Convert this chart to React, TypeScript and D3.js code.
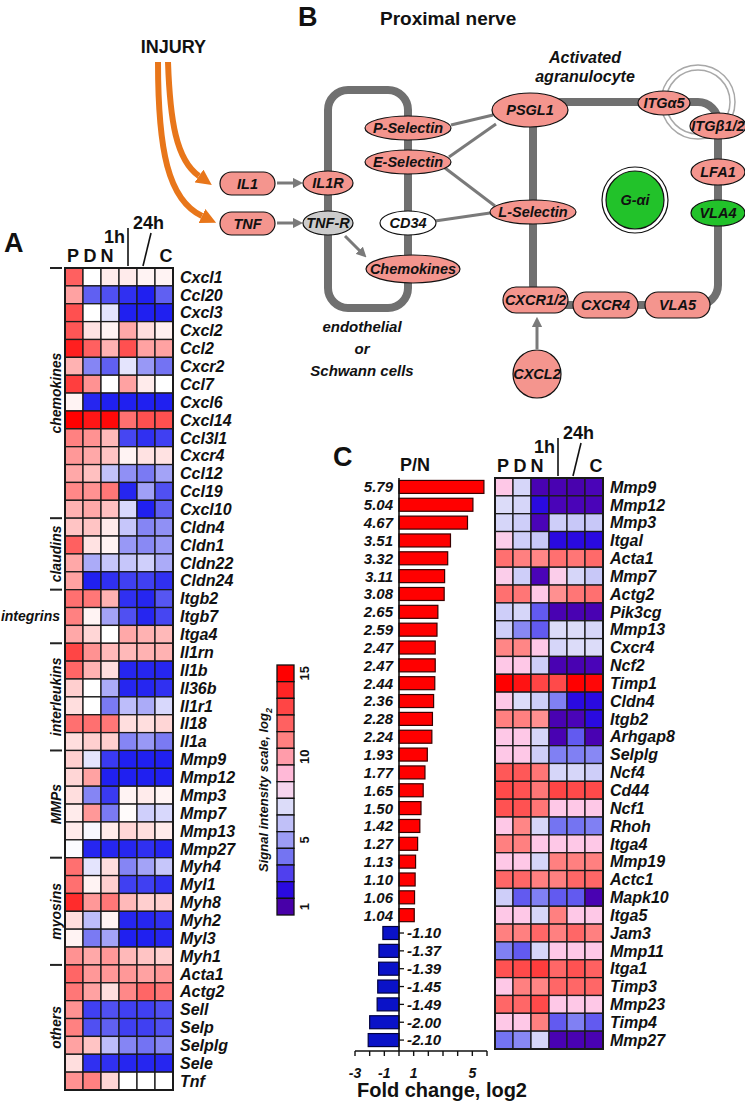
import React, { useEffect, useRef } from "react";
import * as d3 from "d3";

// columns of both heat maps
const conditions = ["P", "D", "N", "1h", "24h", "C"];

// panel A
const leftGenes = ["Cxcl1", "Ccl20", "Cxcl3", "Cxcl2", "Ccl2", "Cxcr2", "Ccl7", "Cxcl6", "Cxcl14", "Ccl3l1", "Cxcr4", "Ccl12", "Ccl19", "Cxcl10",
  "Cldn4", "Cldn1", "Cldn22", "Cldn24", "Itgb2", "Itgb7", "Itga4", "Il1rn", "Il1b", "Il36b", "Il1r1", "Il18", "Il1a",
  "Mmp9", "Mmp12", "Mmp3", "Mmp7", "Mmp13", "Mmp27", "Myh4", "Myl1", "Myh8", "Myh2", "Myl3", "Myh1",
  "Acta1", "Actg2", "Sell", "Selp", "Selplg", "Sele", "Tnf"];

const leftGroups = [
  { name: "chemokines", from: 0, to: 14 },
  { name: "claudins", from: 14, to: 18 },
  { name: "integrins", from: 18, to: 21 },
  { name: "interleukins", from: 21, to: 27 },
  { name: "MMPs", from: 27, to: 33 },
  { name: "myosins", from: 33, to: 39 },
  { name: "others", from: 39, to: 46 },
];

const leftSignal = [
  [12.5, 8, 8.5, 8.5, 8.3, 8.3],
  [10.5, 4, 3.5, 2.5, 2, 4],
  [13, 8, 7.3, 2, 2, 2],
  [12.8, 8.7, 8.3, 10.3, 8.8, 8.4],
  [14.3, 12.5, 10, 13, 10.5, 10.5],
  [10, 5, 4, 7.3, 5.5, 4.5],
  [13.5, 11, 8, 10.5, 8.5, 8],
  [8.3, 2.2, 2, 2, 2, 2],
  [15, 14.5, 14.8, 12, 13, 13],
  [11.5, 11, 9.8, 3.2, 2.5, 3],
  [10.8, 10.3, 9.5, 8.3, 8.7, 8.7],
  [10.3, 9.6, 6.5, 5.3, 4.7, 5.8],
  [11.3, 11, 11.8, 2.2, 5.7, 3.5],
  [10, 10.3, 9.6, 7, 2, 4],
  [9.5, 9.5, 8.5, 6.6, 5, 5.3],
  [12.5, 8.7, 8.3, 5.5, 5.1, 5.5],
  [10.3, 6, 6.6, 6.6, 6.8, 6],
  [10.5, 2, 2.5, 3, 3, 2.5],
  [12, 11.8, 10, 2.5, 2.2, 3.7],
  [11.5, 8.3, 5.8, 3.5, 2.2, 3.2],
  [10.3, 9, 8, 10.3, 10, 9.8],
  [13.3, 11, 9.8, 9.8, 10, 10],
  [12.3, 10, 8.8, 2.2, 2.2, 2.2],
  [9.2, 8, 6, 2.2, 2.2, 2.5],
  [8.8, 8, 4.7, 6.4, 6, 7],
  [12, 12, 11.8, 8.8, 8.8, 9],
  [8.8, 9.2, 9.2, 5, 5.5, 4.7],
  [9.2, 7.3, 2.8, 2, 2, 2],
  [9, 10.5, 2, 2, 2, 2],
  [8.8, 5, 2.8, 8.3, 8.5, 8.3],
  [8.5, 10.8, 4.7, 8.1, 6.8, 7],
  [8.5, 7.8, 8.5, 9, 8.8, 8.5],
  [7.9, 2.2, 2.2, 2.2, 2.5, 2.2],
  [12, 7.3, 8.8, 5, 5.8, 6.6],
  [12, 8.3, 9.2, 3, 3, 2.5],
  [14, 10.8, 11.8, 9.8, 9.2, 9.2],
  [8.8, 6.4, 8.3, 2.2, 2.2, 2.5],
  [8.3, 4.7, 5.8, 2, 2, 2.2],
  [11, 10.3, 10.8, 9.8, 9.5, 9.2],
  [12.3, 10.8, 10.8, 10.8, 10.5, 10.8],
  [11.8, 10.5, 8.8, 11.3, 12.3, 11.8],
  [11, 3, 3.5, 3, 3, 3.5],
  [11.5, 3.5, 4, 3, 3, 3.5],
  [10.5, 9.5, 6.4, 5, 4.5, 5],
  [8.8, 2.5, 2.5, 2.2, 2.2, 2.2],
  [11, 11.5, 9, 8, 8, 8],
];

// panel C
const rightGenes = ["Mmp9", "Mmp12", "Mmp3", "Itgal", "Acta1", "Mmp7", "Actg2", "Pik3cg", "Mmp13", "Cxcr4", "Ncf2", "Timp1",
  "Cldn4", "Itgb2", "Arhgap8", "Selplg", "Ncf4", "Cd44", "Ncf1", "Rhoh", "Itga4", "Mmp19", "Actc1", "Mapk10",
  "Itga5", "Jam3", "Mmp11", "Itga1", "Timp3", "Mmp23", "Timp4", "Mmp27"];

const foldChange = [5.79, 5.04, 4.67, 3.51, 3.32, 3.11, 3.08, 2.65, 2.59, 2.47, 2.47, 2.44, 2.36, 2.28, 2.24, 1.93,
  1.77, 1.65, 1.50, 1.42, 1.27, 1.13, 1.10, 1.06, 1.04, -1.10, -1.37, -1.39, -1.45, -1.49, -2.00, -2.10];

const rightSignal = [
  [8.5, 6.8, 1.3, 1.3, 1.2, 1.5],
  [7, 6.8, 2, 1.5, 1.5, 1.5],
  [6.8, 6.5, 1.5, 6.5, 6.3, 6.3],
  [8.3, 6.5, 6.3, 2, 2, 2],
  [11.5, 11, 10.8, 11.5, 11.3, 11.7],
  [8.3, 6.5, 1.5, 8.3, 6.8, 6.3],
  [11.5, 11.3, 8.5, 10.5, 11.3, 11.5],
  [6.5, 6.8, 3.5, 1.3, 1.3, 1.3],
  [6.5, 4.5, 3.5, 7, 7, 6.8],
  [10.8, 10.8, 8.5, 6.8, 7, 7],
  [8.5, 8.5, 6.5, 1.3, 1.3, 1.5],
  [15, 14.5, 13, 12.8, 15, 14.8],
  [8.5, 7, 6.5, 4.3, 2, 2],
  [11, 11, 10.5, 1.3, 1.5, 2],
  [8.5, 8.5, 6.8, 1.3, 3.5, 1.3],
  [8.5, 8.5, 6.5, 4.3, 4.3, 4.5],
  [12.3, 12.3, 11.3, 6.8, 6.8, 6.5],
  [12.8, 12.5, 11.3, 13, 12.8, 12.8],
  [12.5, 12.5, 11.3, 8.5, 8.5, 8.5],
  [8.5, 10.8, 6.8, 4, 4, 4.3],
  [11, 11, 8.5, 8.5, 8.5, 8.5],
  [8.5, 8.5, 6.8, 11, 11, 11],
  [11.8, 11.8, 11, 11, 11.8, 11.8],
  [6.5, 3.5, 4.3, 3.5, 3.5, 1.3],
  [8.5, 8.5, 6.8, 11, 8.5, 8.5],
  [11, 11, 11.8, 11, 11.8, 11],
  [4.3, 3.5, 6.8, 8.5, 8.5, 8.5],
  [12.5, 12.8, 13.3, 11.8, 12.5, 12],
  [8.5, 11, 10.8, 11.8, 11.8, 11.8],
  [11.8, 11.8, 12.8, 8.5, 8.5, 8.5],
  [8.5, 8.5, 11, 3.5, 4.3, 3.5],
  [4, 4.5, 6.8, 1.3, 1.3, 1.3],
];

const legendLevels = [15, 14, 13, 12, 11, 10, 9, 8, 7, 6, 5, 4, 3, 2, 1];
const legendTicks = [15, 10, 5, 1];
const foldTicks = [-3, -2, -1, 0, 1, 2, 3, 4, 5, 6];
const foldTickLabels = [-3, -1, 1, 5];

const leftStops = [1, 2, 3, 4, 5, 6, 7, 8, 9, 10, 11, 12, 13, 14, 15];
const leftColors = ["#1010e8", "#2020f0", "#4040f2", "#6060f2", "#8585f4", "#ababf8", "#d8d8fc", "#ffffff",
  "#ffd6d6", "#ffb2b2", "#ff9292", "#ff7070", "#ff5050", "#ff2c2c", "#ff0000"];
const rightStops = [1, 1.5, 2, 3, 4, 5, 6, 7, 8, 8.6, 9.5, 10.5, 11.5, 12.5, 13.5, 15];
const rightColors = ["#4800a8", "#4a04b8", "#2a0ae0", "#5040ee", "#7474f2", "#9c9cf5", "#c0c0f8", "#dcdcf9",
  "#f6d4ee", "#ffc6e6", "#ffa8c4", "#ff9090", "#ff7070", "#ff5252", "#ff3838", "#ff0000"];

const FONT = "'Liberation Sans', Arial, Helvetica, sans-serif";

function App() {
  const ref = useRef<SVGSVGElement>(null);

  useEffect(() => {
    drawChart();
  }, []);

  function drawChart() {
    const svg = d3.select(ref.current);
    svg.selectAll("*").remove();
    svg.style("font-family", FONT);

    const defs = svg.append("defs");
    defs.append("marker").attr("id", "headGray")
      .attr("viewBox", "0 0 10 10").attr("refX", 1).attr("refY", 5)
      .attr("markerWidth", 3.4).attr("markerHeight", 3.4).attr("orient", "auto")
      .append("path").attr("d", "M0,0 L10,5 L0,10 z").attr("fill", "#7a7a7a");
    defs.append("marker").attr("id", "headOrange")
      .attr("viewBox", "0 0 10 10").attr("refX", 0).attr("refY", 5)
      .attr("markerWidth", 2.6).attr("markerHeight", 2.6).attr("orient", "auto")
      .append("path").attr("d", "M0,0 L10,5 L0,10 z").attr("fill", "#e8761a");

    function label(g, x, y, s, size, opts = {}) {
      const t = g.append("text")
        .attr("x", x).attr("y", y)
        .attr("font-size", size)
        .attr("font-weight", opts.weight || "bold")
        .attr("font-style", opts.italic ? "italic" : "normal")
        .attr("text-anchor", opts.anchor || "start")
        .attr("fill", opts.fill || "#111")
        .text(s);
      if (opts.transform) t.attr("transform", opts.transform);
      return t;
    }

    // ---------------- panel B: diagram ----------------
    const b = svg.append("g");
    label(b, 298, 26, "B", 27);
    label(b, 380, 25, "Proximal nerve", 19);
    label(b, 206, 53, "INJURY", 18, { anchor: "end" });

    b.append("path").attr("d", "M168,62 C170,120 176,160 199,176")
      .attr("fill", "none").attr("stroke", "#e8761a").attr("stroke-width", 6)
      .attr("marker-end", "url(#headOrange)");
    b.append("path").attr("d", "M158,62 C158,150 168,200 202,216")
      .attr("fill", "none").attr("stroke", "#e8761a").attr("stroke-width", 6)
      .attr("marker-end", "url(#headOrange)");

    // cell outlines
    b.append("rect").attr("x", 328).attr("y", 90).attr("width", 80).attr("height", 218).attr("rx", 20)
      .attr("fill", "none").attr("stroke", "#707070").attr("stroke-width", 8);
    b.append("rect").attr("x", 533).attr("y", 102).attr("width", 185).attr("height", 203).attr("rx", 20)
      .attr("fill", "none").attr("stroke", "#707070").attr("stroke-width", 8);
    b.append("circle").attr("cx", 698).attr("cy", 102).attr("r", 37)
      .attr("fill", "none").attr("stroke", "#a8a8a8").attr("stroke-width", 1.5);
    b.append("circle").attr("cx", 698).attr("cy", 102).attr("r", 32)
      .attr("fill", "none").attr("stroke", "#a8a8a8").attr("stroke-width", 1.5);

    const links = [[451, 125, 493, 115], [449, 157, 496, 124], [445, 168, 495, 206], [435, 221, 490, 213]];
    links.forEach(l => {
      b.append("line").attr("x1", l[0]).attr("y1", l[1]).attr("x2", l[2]).attr("y2", l[3])
        .attr("stroke", "#7a7a7a").attr("stroke-width", 3);
    });
    const arrows = [[277, 183, 294, 183], [277, 223, 294, 223], [345, 236, 360, 251], [537, 349, 537, 326]];
    arrows.forEach(l => {
      b.append("line").attr("x1", l[0]).attr("y1", l[1]).attr("x2", l[2]).attr("y2", l[3])
        .attr("stroke", "#7a7a7a").attr("stroke-width", 3).attr("marker-end", "url(#headGray)");
    });

    const SAL = "#f4958e";
    const GREEN = "#22c22a";
    function oval(cx, cy, rx, ry, fill, s) {
      b.append("ellipse").attr("cx", cx).attr("cy", cy).attr("rx", rx).attr("ry", ry)
        .attr("fill", fill).attr("stroke", "#111").attr("stroke-width", 1.2);
      label(b, cx, cy + 5, s, 14.5, { anchor: "middle", italic: true });
    }
    function pill(x, y, w, h, s) {
      b.append("rect").attr("x", x).attr("y", y).attr("width", w).attr("height", h).attr("rx", h / 2)
        .attr("fill", SAL).attr("stroke", "#111").attr("stroke-width", 1.2);
      label(b, x + w / 2, y + h / 2 + 5, s, 14.5, { anchor: "middle", italic: true });
    }
    pill(220, 172, 55, 23, "IL1");
    pill(220, 212, 55, 23, "TNF");
    oval(328, 183, 25, 12, SAL, "IL1R");
    oval(328, 223, 25, 12, "#cccccc", "TNF-R");
    oval(408, 128, 43, 12, SAL, "P-Selectin");
    oval(408, 162, 43, 12, SAL, "E-Selectin");
    oval(408, 223, 28, 12, "#ffffff", "CD34");
    oval(413, 269, 47, 14, SAL, "Chemokines");
    oval(530, 110, 38, 17, SAL, "PSGL1");
    oval(664, 103, 26, 12, SAL, "ITGα5");
    oval(718, 126, 28, 13, SAL, "ITGβ1/2");
    oval(718, 172, 27, 13, SAL, "LFA1");
    oval(718, 213, 27, 13, GREEN, "VLA4");
    oval(533, 212, 43, 12, SAL, "L-Selectin");
    pill(503, 287, 65, 26, "CXCR1/2");
    pill(573, 292, 65, 26, "CXCR4");
    pill(645, 292, 65, 26, "VLA5");
    b.append("circle").attr("cx", 635).attr("cy", 200).attr("r", 33)
      .attr("fill", "#fff").attr("stroke", "#111").attr("stroke-width", 1.2);
    oval(635, 200, 29, 29, GREEN, "G-αi");
    oval(537, 374, 24, 24, SAL, "CXCL2");

    label(b, 585, 63, "Activated", 16, { anchor: "middle", italic: true });
    label(b, 585, 82, "agranulocyte", 16, { anchor: "middle", italic: true });
    label(b, 362, 332, "endothelial", 15, { anchor: "middle", italic: true });
    label(b, 362, 354, "or", 15, { anchor: "middle", italic: true });
    label(b, 362, 376, "Schwann cells", 15, { anchor: "middle", italic: true });

    // ---------------- heat map helper ----------------
    function heatmap(genes, values, x, y, color) {
      const g = svg.append("g");
      genes.forEach((gene, i) => {
        conditions.forEach((c, j) => {
          g.append("rect")
            .attr("x", x(c)).attr("y", y(gene))
            .attr("width", x.bandwidth()).attr("height", y.bandwidth())
            .attr("fill", color(values[i][j]))
            .attr("stroke", "#1a1a1a").attr("stroke-width", 1.3);
        });
      });
      const r = x.range(), s = y.range();
      g.append("rect").attr("x", r[0]).attr("y", s[0]).attr("width", r[1] - r[0]).attr("height", s[1] - s[0])
        .attr("fill", "none").attr("stroke", "#1a1a1a").attr("stroke-width", 2);
      genes.forEach(gene => {
        label(g, r[1] + 7, y(gene) + y.bandwidth() / 2, gene, 16, { italic: true }).attr("dy", "0.36em");
      });
      return g;
    }

    function header(x, top) {
      const g = svg.append("g");
      const cx = c => x(c) + x.bandwidth() / 2;
      label(g, cx("P") - 1, top - 6, "P", 18, { anchor: "middle" });
      label(g, cx("D") - 2, top - 6, "D", 18, { anchor: "middle" });
      label(g, cx("N") - 3, top - 6, "N", 18, { anchor: "middle" });
      label(g, cx("1h") - 3, top - 25, "1h", 18, { anchor: "end" });
      g.append("line").attr("x1", cx("1h")).attr("x2", cx("1h")).attr("y1", top - 40).attr("y2", top - 2)
        .attr("stroke", "#111").attr("stroke-width", 1.6);
      label(g, cx("1h") + 5, top - 39, "24h", 18);
      g.append("line").attr("x1", cx("24h") + 5).attr("x2", cx("24h") - 3).attr("y1", top - 35).attr("y2", top - 2)
        .attr("stroke", "#111").attr("stroke-width", 1.6);
      label(g, cx("C") + 2, top - 6, "C", 18, { anchor: "middle" });
    }

    // ---------------- panel A ----------------
    const xA = d3.scaleBand().domain(conditions).range([65, 173]);
    const yA = d3.scaleBand().domain(leftGenes).range([268, 1090]);
    const colorA = d3.scaleLinear().domain(leftStops).range(leftColors).interpolate(d3.interpolateRgb).clamp(true);
    label(svg, 4, 252, "A", 27);
    header(xA, 268);
    heatmap(leftGenes, leftSignal, xA, yA, colorA);

    const ga = svg.append("g");
    leftGroups.forEach(grp => {
      const y0 = yA(leftGenes[grp.from]);
      const y1 = grp.to < leftGenes.length ? yA(leftGenes[grp.to]) : yA.range()[1];
      ga.append("line").attr("x1", 50).attr("x2", 62).attr("y1", y0).attr("y2", y0)
        .attr("stroke", "#222").attr("stroke-width", 2);
      const cy = (y0 + y1) / 2;
      if (grp.name === "integrins") {
        label(ga, 60, cy + 5, grp.name, 14, { anchor: "end", italic: true });
      } else {
        label(ga, 0, 0, grp.name, 14, { anchor: "middle", italic: true, transform: `translate(61,${cy}) rotate(-90)` });
      }
    });

    // legend
    const colorC = d3.scaleLinear().domain(rightStops).range(rightColors).interpolate(d3.interpolateRgb).clamp(true);
    const yL = d3.scaleBand().domain(legendLevels).range([665, 915]);
    const gl = svg.append("g");
    legendLevels.forEach(v => {
      gl.append("rect").attr("x", 277).attr("y", yL(v)).attr("width", 17).attr("height", yL.bandwidth())
        .attr("fill", colorC(v)).attr("stroke", "#111").attr("stroke-width", 1.3);
    });
    legendTicks.forEach(v => {
      label(gl, 0, 0, String(v), 13, { anchor: "middle", transform: `translate(309,${yL(v) + yL.bandwidth() / 2}) rotate(-90)` });
    });
    const lt = gl.append("text").attr("transform", "translate(268,790) rotate(-90)")
      .attr("text-anchor", "middle").attr("font-size", 13).attr("font-weight", "bold").attr("font-style", "italic").attr("fill", "#111");
    lt.append("tspan").text("Signal intensity scale, log");
    lt.append("tspan").attr("font-size", 9).attr("dy", 4).text("2");

    // ---------------- panel C ----------------
    const xC = d3.scaleBand().domain(conditions).range([495, 603]);
    const yC = d3.scaleBand().domain(rightGenes).range([478, 1049]);
    label(svg, 333, 466, "C", 27);
    label(svg, 415, 471, "P/N", 18, { anchor: "middle" });
    header(xC, 478);
    heatmap(rightGenes, rightSignal, xC, yC, colorC);

    const xF = d3.scaleLinear().domain([-3, 6]).range([355, 487]);
    const gb = svg.append("g");
    const barH = 13;
    rightGenes.forEach((gene, i) => {
      const v = foldChange[i];
      const yy = yC(gene) + (yC.bandwidth() - barH) / 2;
      gb.append("rect")
        .attr("x", xF(Math.min(0, v))).attr("y", yy)
        .attr("width", Math.abs(xF(v) - xF(0))).attr("height", barH)
        .attr("fill", v > 0 ? "#ff0000" : "#0a12c8")
        .attr("stroke", v > 0 ? "#3a0000" : "#000040").attr("stroke-width", 1.2);
      const cy = yC(gene) + yC.bandwidth() / 2;
      if (v > 0) {
        label(gb, xF(0) - 6, cy, v.toFixed(2), 15, { anchor: "end", italic: true }).attr("dy", "0.36em");
      } else {
        gb.append("line").attr("x1", xF(0)).attr("x2", xF(0) + 5).attr("y1", cy).attr("y2", cy)
          .attr("stroke", "#111").attr("stroke-width", 1.3);
        label(gb, xF(0) + 8, cy, v.toFixed(2), 15, { italic: true }).attr("dy", "0.36em");
      }
    });
    const axisY = 1051;
    gb.append("line").attr("x1", xF(0)).attr("x2", xF(0)).attr("y1", 478).attr("y2", axisY)
      .attr("stroke", "#111").attr("stroke-width", 1.6);
    gb.append("line").attr("x1", xF(-3)).attr("x2", xF(6)).attr("y1", axisY).attr("y2", axisY)
      .attr("stroke", "#111").attr("stroke-width", 1.6);
    foldTicks.forEach(t => {
      gb.append("line").attr("x1", xF(t)).attr("x2", xF(t)).attr("y1", axisY).attr("y2", axisY + 5)
        .attr("stroke", "#111").attr("stroke-width", 1.4);
    });
    foldTickLabels.forEach(t => {
      label(gb, xF(t), 1078, String(t), 14, { anchor: "middle", italic: true });
    });
    label(gb, 442, 1097, "Fold change, log2", 20, { anchor: "middle" });
  }

  return (
    <svg ref={ref} width={745} height={1104}
      style={{ position: "absolute", left: 0, top: 0, background: "#fff" }} />
  );
}

export default App;
